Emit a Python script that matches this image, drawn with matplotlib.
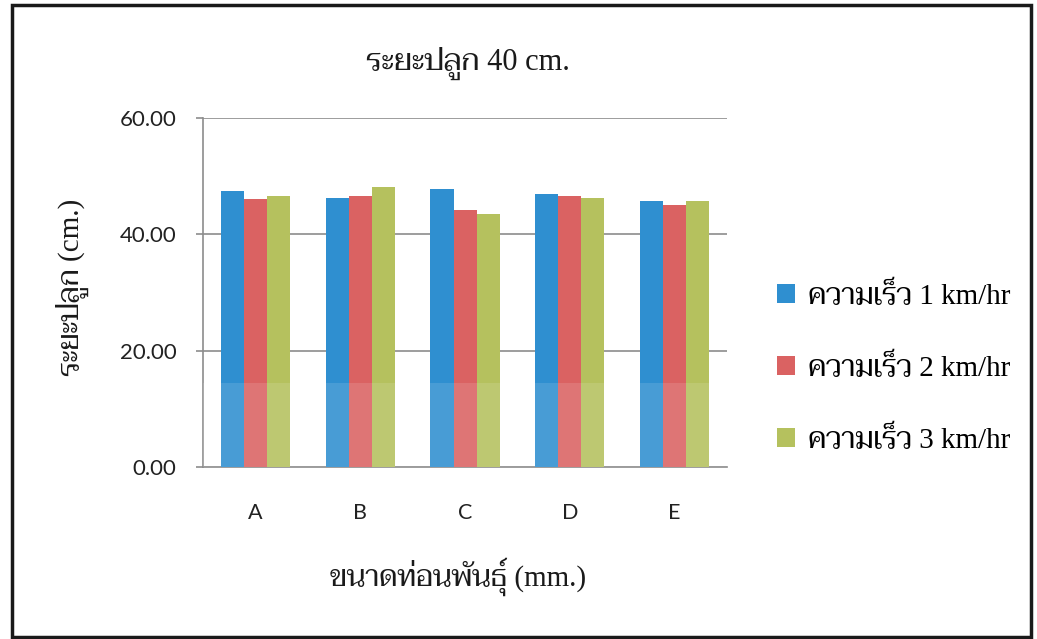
import matplotlib
matplotlib.use("Agg")
import matplotlib.pyplot as plt
from matplotlib.patches import Rectangle
from matplotlib.transforms import blended_transform_factory
import numpy as np

# --- data -------------------------------------------------------------
categories = ["A", "B", "C", "D", "E"]
speed_1 = [47.4, 46.2, 47.8, 47.0, 45.8]
speed_2 = [46.0, 46.6, 44.2, 46.6, 45.1]
speed_3 = [46.5, 48.2, 43.5, 46.3, 45.8]
series_labels = ["ความเร็ว 1 km/hr", "ความเร็ว 2 km/hr", "ความเร็ว 3 km/hr"]
y_ticks = [0, 20, 40, 60]

title_text = "ระยะปลูก 40 cm."
y_title = "ระยะปลูก (cm.)"
x_title = "ขนาดท่อนพันธุ์ (mm.)"

# --- style ------------------------------------------------------------
colors = ["#2F8FD0", "#DA6262", "#B5C15E"]
grid_color = "#8C8C8C"
thai_serif = ["Liberation Serif", "Taviraj", "Sarabun", "Noto Serif Thai", "DejaVu Sans"]
num_font = ["Lato", "DejaVu Sans"]

fig = plt.figure(figsize=(10.37, 6.39), dpi=100)
fig.patch.set_facecolor("white")
ax = fig.add_axes([0.1958, 0.2692, 0.5053, 0.5462])

x = np.arange(len(categories))
width = 0.22
handles = []
for i, (vals, col) in enumerate(zip([speed_1, speed_2, speed_3], colors)):
    h = ax.bar(x + (i - 1) * width, vals, width, color=col, edgecolor="none",
               zorder=3, label=series_labels[i])
    handles.append(h)

ax.set_xlim(-0.5, len(categories) - 0.5)
ax.set_ylim(0, 60)
ax.set_yticks(y_ticks)
ax.set_yticklabels([f"{v:.2f}" for v in y_ticks], fontfamily=num_font, fontsize=16,
                   color="#222222")
ax.set_xticks(x)
ax.set_xticklabels(categories, fontfamily=num_font, fontsize=15.5, color="#222222")

ax.yaxis.grid(True, color=grid_color, linewidth=1.2, zorder=0)
ax.tick_params(axis="y", direction="out", length=5, width=1.2, color=grid_color, pad=14)
ax.tick_params(axis="x", length=0, pad=26)
for side in ["top", "right"]:
    ax.spines[side].set_visible(False)
for side in ["left", "bottom"]:
    ax.spines[side].set_color(grid_color)
    ax.spines[side].set_linewidth(1.2)

# lighter lower band of the printed page
band = Rectangle((0, 0), 1, 14.4, transform=blended_transform_factory(ax.transAxes, ax.transData),
                 facecolor="white", alpha=0.12, edgecolor="none", zorder=4)
ax.add_patch(band)

fig.text(0.4513, 0.900, title_text, ha="center", va="center", fontsize=22,
         family=thai_serif, color="#1a1a1a")
fig.text(0.0694, 0.551, y_title, ha="center", va="center", rotation=90, fontsize=21,
         family=thai_serif, color="#1a1a1a")
fig.text(0.4417, 0.097, x_title, ha="center", va="center", fontsize=21,
         family=thai_serif, color="#1a1a1a")

fig.legend(handles=handles, labels=series_labels, loc="center left",
           bbox_to_anchor=(0.749, 0.4250), frameon=False, borderpad=0,
           borderaxespad=0, handlelength=0.62, handleheight=0.62,
           handletextpad=0.45, labelspacing=1.5,
           prop={"family": thai_serif, "size": 21})

# page frame
fig.add_artist(Rectangle((12 / 1037, 1 - 637 / 639), 1019 / 1037, 632 / 639,
                         transform=fig.transFigure, fill=False, edgecolor="#1a1a1a",
                         linewidth=2.5))

fig.savefig("out.png", dpi=100, facecolor="white")
